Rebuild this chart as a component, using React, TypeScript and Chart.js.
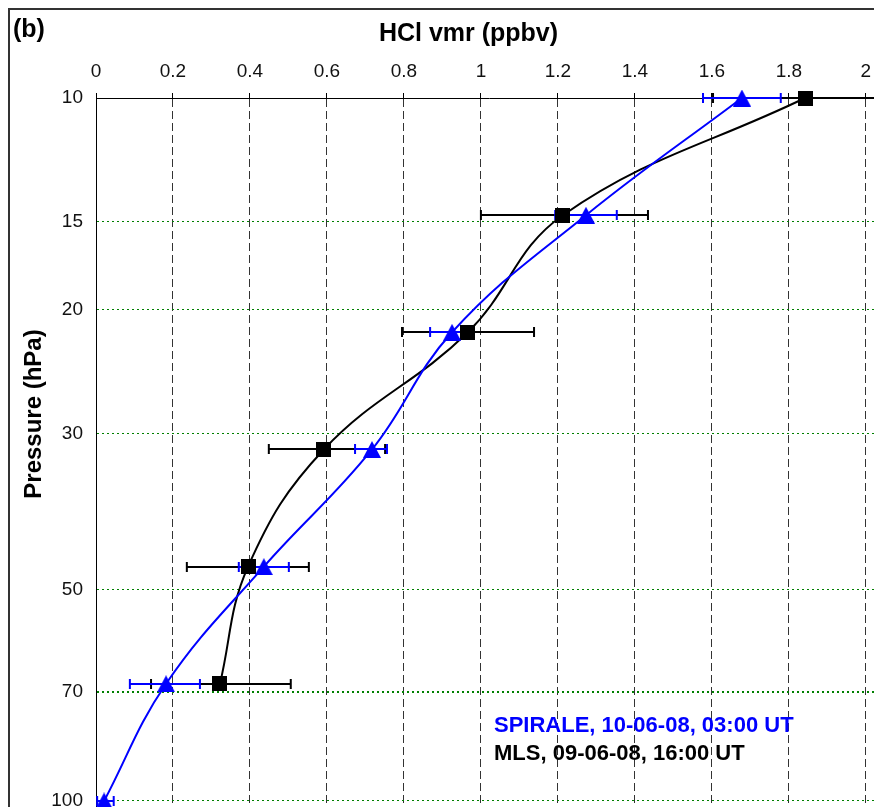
import React, { useEffect, useRef } from "react";
import { Chart, registerables } from "chart.js";
Chart.register(...registerables);

// MLS (black squares)
const mlsPressure = [10, 14.68, 21.54, 31.62, 46.42, 68.13];
const mlsHcl = [1.842, 1.213, 0.966, 0.592, 0.395, 0.322];
const mlsErrLow = [1.603, 1.0, 0.795, 0.449, 0.236, 0.143];
const mlsErrHigh = [2.08, 1.434, 1.138, 0.751, 0.553, 0.506];

// SPIRALE (blue triangles)
const spiralePressure = [10, 14.68, 21.54, 31.62, 46.42, 68.13, 100];
const spiraleHcl = [1.678, 1.273, 0.925, 0.717, 0.436, 0.182, 0.021];
const spiraleErrLow = [1.577, 1.193, 0.868, 0.673, 0.371, 0.088, 0.003];
const spiraleErrHigh = [1.779, 1.353, 0.982, 0.756, 0.501, 0.27, 0.046];

const xTicks = [0, 0.2, 0.4, 0.6, 0.8, 1, 1.2, 1.4, 1.6, 1.8, 2];
const yTicks = [10, 15, 20, 30, 50, 70, 100];

const xTitle = "HCl vmr (ppbv)";
const yTitle = "Pressure (hPa)";
const panelLabel = "(b)";
const legendSpirale = "SPIRALE, 10-06-08, 03:00 UT";
const legendMls = "MLS, 09-06-08, 16:00 UT";

const FONT = "'Liberation Sans', Arial, sans-serif";

function makeSquare(size: number, color: string) {
  const c = document.createElement("canvas");
  c.width = size;
  c.height = size;
  const g = c.getContext("2d")!;
  g.fillStyle = color;
  g.fillRect(0, 0, size, size);
  return c;
}

function makeTriangle(w: number, h: number, color: string) {
  const c = document.createElement("canvas");
  c.width = w;
  c.height = h;
  const g = c.getContext("2d")!;
  g.fillStyle = color;
  g.beginPath();
  g.moveTo(w / 2, 0);
  g.lineTo(w, h);
  g.lineTo(0, h);
  g.closePath();
  g.fill();
  return c;
}

const errorBarPlugin = {
  id: "errorBars",
  beforeDatasetsDraw(chart: any) {
    const { ctx, chartArea, scales } = chart;
    const xs = scales.x;
    const ys = scales.y;
    ctx.save();
    ctx.beginPath();
    ctx.rect(chartArea.left - 2, chartArea.top - 10, chartArea.right - chartArea.left + 4, chartArea.bottom - chartArea.top + 20);
    ctx.clip();
    const drawSet = (ps: number[], lo: number[], hi: number[], color: string) => {
      ctx.strokeStyle = color;
      ctx.lineWidth = 2;
      ps.forEach((p, i) => {
        const y = Math.round(ys.getPixelForValue(p));
        const x1 = xs.getPixelForValue(lo[i]);
        const x2 = xs.getPixelForValue(hi[i]);
        ctx.beginPath();
        ctx.moveTo(x1, y);
        ctx.lineTo(x2, y);
        ctx.moveTo(x1, y - 5);
        ctx.lineTo(x1, y + 5);
        ctx.moveTo(x2, y - 5);
        ctx.lineTo(x2, y + 5);
        ctx.stroke();
      });
    };
    drawSet(mlsPressure, mlsErrLow, mlsErrHigh, "#000000");
    drawSet(spiralePressure, spiraleErrLow, spiraleErrHigh, "#0000ff");
    ctx.restore();
  },
};

const textPlugin = {
  id: "texts",
  afterDraw(chart: any) {
    const { ctx } = chart;
    ctx.save();
    // frame
    ctx.strokeStyle = "#333";
    ctx.lineWidth = 2;
    ctx.beginPath();
    ctx.moveTo(1, chart.height);
    ctx.lineTo(1, 1);
    ctx.lineTo(chart.width, 1);
    ctx.stroke();

    ctx.fillStyle = "#000";
    ctx.textBaseline = "alphabetic";
    ctx.font = `bold 25px ${FONT}`;
    ctx.textAlign = "left";
    ctx.fillText(panelLabel, 5, 29);

    ctx.textAlign = "center";
    ctx.fillText(xTitle, 460.5, 33);

    ctx.save();
    ctx.translate(33, 406);
    ctx.rotate(-Math.PI / 2);
    ctx.font = `bold 24px ${FONT}`;
    ctx.textAlign = "center";
    ctx.fillText(yTitle, 0, 0);
    ctx.restore();

    ctx.font = `bold 22px ${FONT}`;
    ctx.textAlign = "left";
    ctx.fillStyle = "#0000ff";
    ctx.fillText(legendSpirale, 486, 724);
    ctx.fillStyle = "#000";
    ctx.fillText(legendMls, 486, 752);
    ctx.restore();
  },
};

export default function App() {
  const ref = useRef<HTMLCanvasElement | null>(null);
  useEffect(() => {
    if (!ref.current) return;
    const tri = makeTriangle(18, 17, "#0000ff");
    const sq = makeSquare(15, "#000000");
    const chart = new Chart(ref.current, {
      type: "scatter",
      data: {
        datasets: [
          {
            label: "SPIRALE",
            data: spiralePressure.map((p, i) => ({ x: spiraleHcl[i], y: p })),
            showLine: true,
            borderColor: "#0000ff",
            backgroundColor: "#0000ff",
            borderWidth: 2,
            pointStyle: tri as any,
            pointRadius: 9,
            tension: 0.4,
            clip: false as any,
          },
          {
            label: "MLS",
            data: mlsPressure.map((p, i) => ({ x: mlsHcl[i], y: p })),
            showLine: true,
            borderColor: "#000000",
            backgroundColor: "#000000",
            borderWidth: 2,
            pointStyle: sq as any,
            pointRadius: 8,
            tension: 0.4,
            clip: false as any,
          },
        ],
      },
      options: {
        responsive: false,
        animation: false,
        devicePixelRatio: 1,
        events: [],
        layout: { padding: 0, autoPadding: false },
        plugins: { legend: { display: false }, tooltip: { enabled: false }, title: { display: false } },
        scales: {
          x: {
            type: "linear",
            position: "top",
            min: 0,
            max: 2.042,
            afterBuildTicks: (s: any) => {
              s.ticks = xTicks.map((v) => ({ value: v }));
            },
            afterFit: (s: any) => {
              s.height = 90;
              s.paddingLeft = 0;
              s.paddingRight = 0;
            },
            ticks: {
              autoSkip: false,
              maxRotation: 0,
              padding: 10,
              color: "#111",
              font: { family: FONT, size: 19 },
              callback: (v: any) => String(v),
            },
            grid: {
              color: "#333",
              lineWidth: 1,
              drawTicks: true,
              tickLength: 5,
              tickColor: "#000",
              tickBorderDash: [],
            },
            border: { display: true, color: "#000", width: 1, dash: [8, 4] },
          },
          y: {
            type: "logarithmic",
            position: "left",
            reverse: true,
            min: 10,
            max: 102,
            afterBuildTicks: (s: any) => {
              s.ticks = yTicks.map((v) => ({ value: v }));
            },
            afterFit: (s: any) => {
              s.width = 88;
              s.paddingTop = 0;
              s.paddingBottom = 0;
            },
            ticks: {
              autoSkip: false,
              padding: 13,
              color: "#111",
              font: { family: FONT, size: 19 },
              callback: (v: any) => String(v),
            },
            grid: {
              color: "#008000",
              lineWidth: (c: any) => (c.tick && c.tick.value === 70 ? 2 : 1),
              drawTicks: false,
            },
            border: { display: true, color: "#000", width: 1, dash: [2, 3] },
          },
        },
      },
      plugins: [errorBarPlugin, textPlugin],
    });
    return () => chart.destroy();
  }, []);
  return <canvas ref={ref} width={874} height={799} style={{ display: "block" }} />;
}
